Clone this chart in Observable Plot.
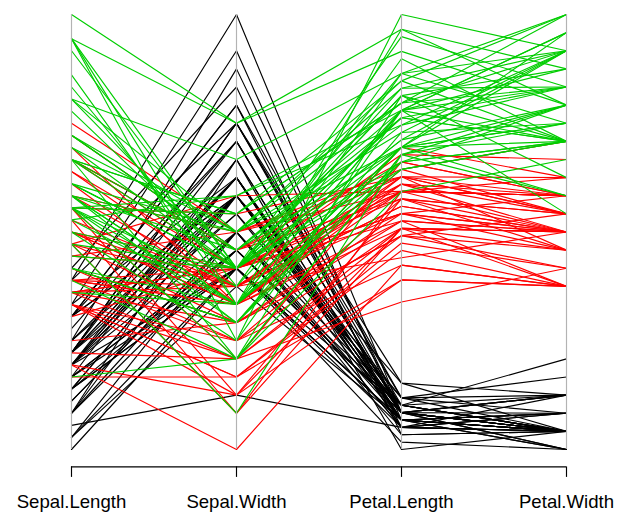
<!DOCTYPE html>
<html>
<head>
<meta charset="utf-8">
<script src="https://cdn.jsdelivr.net/npm/d3@7"></script>
<script src="https://cdn.jsdelivr.net/npm/@observablehq/plot@0.6"></script>
<style>
  html, body { margin: 0; padding: 0; background: #ffffff; }
</style>
</head>
<body>
<div id="chart"></div>
<script>
const variables = ["Sepal.Length", "Sepal.Width", "Petal.Length", "Petal.Width"];

const sepalLength = [
  5.1,4.9,4.7,4.6,5.0,5.4,4.6,5.0,4.4,4.9,5.4,4.8,4.8,4.3,5.8,5.7,5.4,5.1,5.7,5.1,5.4,5.1,4.6,5.1,4.8,5.0,5.0,5.2,5.2,4.7,4.8,5.4,5.2,5.5,4.9,5.0,5.5,4.9,4.4,5.1,5.0,4.5,4.4,5.0,5.1,4.8,5.1,4.6,5.3,5.0,
  7.0,6.4,6.9,5.5,6.5,5.7,6.3,4.9,6.6,5.2,5.0,5.9,6.0,6.1,5.6,6.7,5.6,5.8,6.2,5.6,5.9,6.1,6.3,6.1,6.4,6.6,6.8,6.7,6.0,5.7,5.5,5.5,5.8,6.0,5.4,6.0,6.7,6.3,5.6,5.5,5.5,6.1,5.8,5.0,5.6,5.7,5.7,6.2,5.1,5.7,
  6.3,5.8,7.1,6.3,6.5,7.6,4.9,7.3,6.7,7.2,6.5,6.4,6.8,5.7,5.8,6.4,6.5,7.7,7.7,6.0,6.9,5.6,7.7,6.3,6.7,7.2,6.2,6.1,6.4,7.2,7.4,7.9,6.4,6.3,6.1,7.7,6.3,6.4,6.0,6.9,6.7,6.9,5.8,6.8,6.7,6.7,6.3,6.5,6.2,5.9
];
const sepalWidth = [
  3.5,3.0,3.2,3.1,3.6,3.9,3.4,3.4,2.9,3.1,3.7,3.4,3.0,3.0,4.0,4.4,3.9,3.5,3.8,3.8,3.4,3.7,3.6,3.3,3.4,3.0,3.4,3.5,3.4,3.2,3.1,3.4,4.1,4.2,3.1,3.2,3.5,3.6,3.0,3.4,3.5,2.3,3.2,3.5,3.8,3.0,3.8,3.2,3.7,3.3,
  3.2,3.2,3.1,2.3,2.8,2.8,3.3,2.4,2.9,2.7,2.0,3.0,2.2,2.9,2.9,3.1,3.0,2.7,2.2,2.5,3.2,2.8,2.5,2.8,2.9,3.0,2.8,3.0,2.9,2.6,2.4,2.4,2.7,2.7,3.0,3.4,3.1,2.3,3.0,2.5,2.6,3.0,2.6,2.3,2.7,3.0,2.9,2.9,2.5,2.8,
  3.3,2.7,3.0,2.9,3.0,3.0,2.5,2.9,2.5,3.6,3.2,2.7,3.0,2.5,2.8,3.2,3.0,3.8,2.6,2.2,3.2,2.8,2.8,2.7,3.3,3.2,2.8,3.0,2.8,3.0,2.8,3.8,2.8,2.8,2.6,3.0,3.4,3.1,3.0,3.1,3.1,3.1,2.7,3.2,3.3,3.0,2.5,3.0,3.4,3.0
];
const petalLength = [
  1.4,1.4,1.3,1.5,1.4,1.7,1.4,1.5,1.4,1.5,1.5,1.6,1.4,1.1,1.2,1.5,1.3,1.4,1.7,1.5,1.7,1.5,1.0,1.7,1.9,1.6,1.6,1.5,1.4,1.6,1.6,1.5,1.5,1.4,1.5,1.2,1.3,1.4,1.3,1.5,1.3,1.3,1.3,1.6,1.9,1.4,1.6,1.4,1.5,1.4,
  4.7,4.5,4.9,4.0,4.6,4.5,4.7,3.3,4.6,3.9,3.5,4.2,4.0,4.7,3.6,4.4,4.5,4.1,4.5,3.9,4.8,4.0,4.9,4.7,4.3,4.4,4.8,5.0,4.5,3.5,3.8,3.7,3.9,5.1,4.5,4.5,4.7,4.4,4.1,4.0,4.4,4.6,4.0,3.3,4.2,4.2,4.2,4.3,3.0,4.1,
  6.0,5.1,5.9,5.6,5.8,6.6,4.5,6.3,5.8,6.1,5.1,5.3,5.5,5.0,5.1,5.3,5.5,6.7,6.9,5.0,5.7,4.9,6.7,4.9,5.7,6.0,4.8,4.9,5.6,5.8,6.1,6.4,5.6,5.1,5.6,6.1,5.6,5.5,4.8,5.4,5.6,5.1,5.1,5.9,5.7,5.2,5.0,5.2,5.4,5.1
];
const petalWidth = [
  0.2,0.2,0.2,0.2,0.2,0.4,0.3,0.2,0.2,0.1,0.2,0.2,0.1,0.1,0.2,0.4,0.4,0.3,0.3,0.3,0.2,0.4,0.2,0.5,0.2,0.2,0.4,0.2,0.2,0.2,0.2,0.4,0.1,0.2,0.2,0.2,0.2,0.1,0.2,0.2,0.3,0.3,0.2,0.6,0.4,0.3,0.2,0.2,0.2,0.2,
  1.4,1.5,1.5,1.3,1.5,1.3,1.6,1.0,1.3,1.4,1.0,1.5,1.0,1.4,1.3,1.4,1.5,1.0,1.5,1.1,1.8,1.3,1.5,1.2,1.3,1.4,1.4,1.7,1.5,1.0,1.1,1.0,1.2,1.6,1.5,1.6,1.5,1.3,1.3,1.3,1.2,1.4,1.2,1.0,1.3,1.2,1.3,1.3,1.1,1.3,
  2.5,1.9,2.1,1.8,2.2,2.1,1.7,1.8,1.8,2.5,2.0,1.9,2.1,2.0,2.4,2.3,1.8,2.2,2.3,1.5,2.3,2.0,2.0,1.8,2.1,1.8,1.8,1.8,2.1,1.6,1.9,2.0,2.2,1.5,1.4,2.3,2.4,1.8,1.8,2.1,2.4,2.3,1.9,2.3,2.5,2.3,1.9,2.0,2.3,1.8
];
// species code per row: 1 = setosa, 2 = versicolor, 3 = virginica
const species = [
  1,1,1,1,1,1,1,1,1,1,1,1,1,1,1,1,1,1,1,1,1,1,1,1,1,1,1,1,1,1,1,1,1,1,1,1,1,1,1,1,1,1,1,1,1,1,1,1,1,1,
  2,2,2,2,2,2,2,2,2,2,2,2,2,2,2,2,2,2,2,2,2,2,2,2,2,2,2,2,2,2,2,2,2,2,2,2,2,2,2,2,2,2,2,2,2,2,2,2,2,2,
  3,3,3,3,3,3,3,3,3,3,3,3,3,3,3,3,3,3,3,3,3,3,3,3,3,3,3,3,3,3,3,3,3,3,3,3,3,3,3,3,3,3,3,3,3,3,3,3,3,3
];
const speciesColors = {1: "#000000", 2: "#FF0000", 3: "#00CD00"};

// Rescale each variable to [0, 1] as parcoord does
const columns = [sepalLength, sepalWidth, petalLength, petalWidth];
const rows = [];
for (let i = 0; i < species.length; i++) {
  columns.forEach((col, j) => {
    const [lo, hi] = d3.extent(col);
    rows.push({id: i, variable: variables[j], value: (col[i] - lo) / (hi - lo), color: speciesColors[species[i]]});
  });
}

const chart = Plot.plot({
  width: 619,
  height: 513,
  marginLeft: 70,
  marginRight: 52.3,
  marginTop: 0,
  marginBottom: 46.6,
  style: {fontFamily: "'Liberation Sans', Arial, Helvetica, sans-serif", fontSize: "18.6px", background: "#ffffff", color: "#000000"},
  x: {type: "point", domain: variables, padding: 0, axis: null},
  y: {domain: [-0.04, 1.04], range: [466.4, -3.4], axis: null},
  marks: [
    Plot.line(rows, {x: "variable", y: "value", z: "id", stroke: "color", strokeWidth: 1.15, curve: "linear"}),
    Plot.ruleX(variables, {y1: 0, y2: 1, stroke: "#b3b3b3", strokeWidth: 1.15}),
    Plot.ruleY([-0.04], {x1: () => variables[0], x2: () => variables[variables.length - 1], stroke: "#000000", strokeWidth: 1.15}),
    Plot.axisX({label: null, tickSize: 10.5, tickPadding: 17, fontSize: 18.6, stroke: "#000000", fill: "#000000", strokeWidth: 1.15})
  ]
});
document.getElementById("chart").appendChild(chart);
</script>
</body>
</html>
